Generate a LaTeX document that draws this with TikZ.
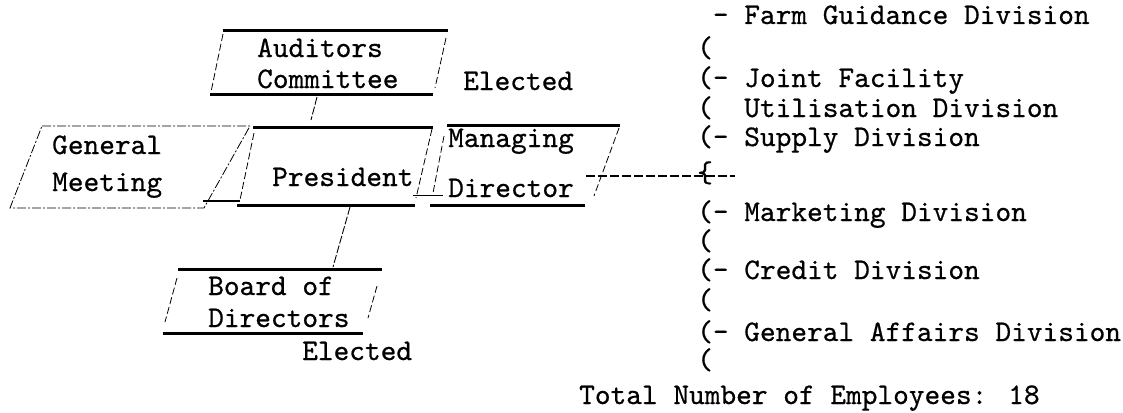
\documentclass[tikz,border=0pt]{standalone}
\usepackage{fontspec}
\newfontfamily\typew[FakeBold=0.6]{lmmono10-regular.otf}
\begin{document}
\begin{tikzpicture}[x=1pt,y=-1pt,
  txt/.style={font=\typew\fontsize{29.9}{30}\selectfont, inner sep=0pt, anchor=base west},
  edge/.style={line width=3pt, line cap=butt},
  side/.style={line width=0.8pt, dash pattern=on 7pt off 3pt},
  gm/.style={line width=0.8pt, dash pattern=on 9pt off 2pt on 2pt off 2pt},
  conn/.style={line width=0.9pt, dash pattern=on 8pt off 2pt},
  link/.style={line width=1.6pt},
  dline/.style={line width=1.8pt, dash pattern=on 9pt off 3pt}]
\useasboundingbox (0,0) rectangle (1123,412);

% Auditors Committee
\coordinate (aTL) at (223,31); \coordinate (aTR) at (448,31);
\coordinate (aBL) at (210,94); \coordinate (aBR) at (433,94);
\draw[edge] (aTL) -- (aTR);
\draw[edge] (aBL) -- (aBR);
\draw[side] (223,34) -- (211,92);
\draw[side] (446,38) -- (435,88);
\node[txt] (aud1) at (257,57) {Auditors};
\node[txt] (aud2) at (257,88) {Committee};
\node[txt] (el1) at (463,90) {Elected};

% President
\coordinate (pTL) at (253,127); \coordinate (pTR) at (433,127);
\coordinate (pBL) at (237,205); \coordinate (pBR) at (415,205);
\draw[edge] (pTL) -- (pTR);
\draw[edge] (pBL) -- (pBR);
\draw[side] (254,133) -- (240,200);
\draw[side] (432,129) -- (416,198);
\node[txt] (pres) at (272,186) {President};

% General Meeting
\coordinate (gTL) at (42,126); \coordinate (gTR) at (250,126);
\coordinate (gBR) at (204,208); \coordinate (gBL) at (10,208);
\draw[gm] (gTL) -- (gTR) -- (gBR) -- (gBL) -- cycle;
\node[txt] (gen1) at (52,154) {General};
\node[txt] (gen2) at (52,191) {Meeting};

% Managing Director
\coordinate (mTL) at (447,125); \coordinate (mTR) at (620,125);
\coordinate (mBL) at (430,205); \coordinate (mBR) at (585,205);
\draw[edge] (mTL) -- (mTR);
\draw[edge] (mBL) -- (mBR);
\draw[side] (444,136) -- (433,193);
\draw[side] (619,128) -- (594,196);
\node[txt] (md1) at (448,147) {Managing};
\node[txt] (md2) at (448,197) {Director};

% Board of Directors
\coordinate (bTL) at (178,269); \coordinate (bTR) at (382,269);
\coordinate (bBL) at (163,333); \coordinate (bBR) at (363,333);
\draw[edge] (bTL) -- (bTR);
\draw[edge] (bBL) -- (bBR);
\draw[side] (177,278) -- (165,322);
\draw[side] (377,286) -- (368,318);
\node[txt] (bd1) at (208,295) {Board of};
\node[txt] (bd2) at (208,327) {Directors};
\node[txt] (el2) at (302,360) {Elected};

% connectors
\coordinate (aBot) at (317,97); \coordinate (pTop) at (311,120);
\draw[conn] (aBot) -- (pTop);
\coordinate (gOut) at (203,201); \coordinate (pIn) at (240,201);
\draw[link] (gOut) -- (pIn);
\coordinate (pOut) at (413,195); \coordinate (mIn) at (443,195);
\draw[line width=1pt] (pOut) -- (mIn);
\coordinate (pBot) at (350,207); \coordinate (bTop) at (333,267);
\draw[conn] (pBot) -- (bTop);
\coordinate (mOut) at (586,176); \coordinate (bEnd) at (735,176);
\draw[dline] (mOut) -- (bEnd);

% divisions
\node[txt] (farm) at (712.7,24) {- Farm Guidance Division};
\node[txt] (p1) at (697,57) {(};
\node[txt] (joint) at (697,87) {(- Joint Facility};
\node[txt] (util) at (697,117) {(~~Utilisation Division};
\node[txt] (supply) at (697,146) {(- Supply Division};
\node[txt] (brace) at (697,182) {\{};
\node[txt] (mkt) at (697,221) {(- Marketing Division};
\node[txt] (p2) at (697,250) {(};
\node[txt] (credit) at (697,279) {(- Credit Division};
\node[txt] (p3) at (697,309) {(};
\node[txt] (genaff) at (697,341) {(- General Affairs Division};
\node[txt] (p4) at (697,369) {(};
\node[txt] (total) at (579,404) {Total Number of Employees: 18};
\end{tikzpicture}
\end{document}
